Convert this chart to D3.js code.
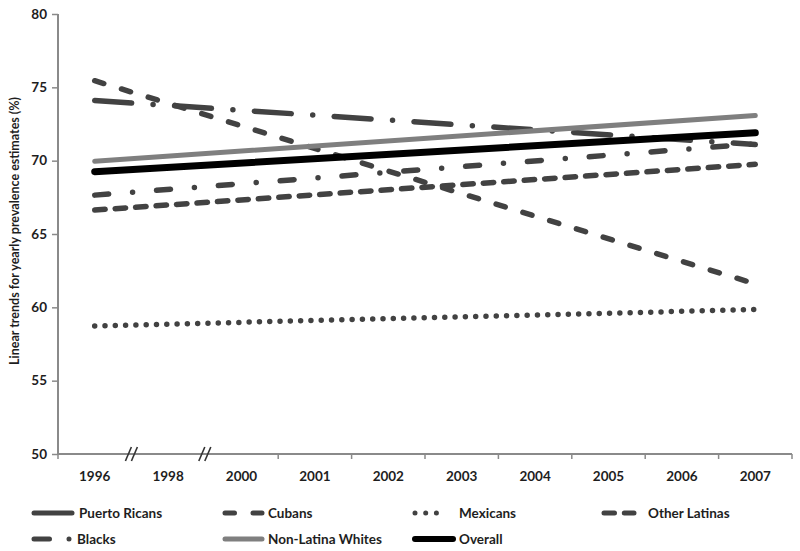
<!DOCTYPE html>
<html><head><meta charset="utf-8">
<script src="https://cdn.jsdelivr.net/npm/d3@7"></script>
<style>body{margin:0;background:#fff}svg{display:block}text{font-family:Lato,"Open Sans",sans-serif;font-weight:bold;fill:#1e1e1e}</style>
</head><body><svg id="c" width="800" height="551"></svg>
<script>
const categories = ["1996","1998","2000","2001","2002","2003","2004","2005","2006","2007"];
const breakAfter = ["1996","1998"];
const yTicks = [50,55,60,65,70,75,80];
const trendYears = ["1996","2007"];
const puertoRicans = [74.1, 71.1];
const cubans = [75.45, 61.6];
const mexicans = [58.73, 59.85];
const otherLatinas = [66.63, 69.75];
const blacks = [67.65, 71.15];
const whites = [69.96, 73.08];
const overall = [69.25, 71.9];
const seriesNames = ["Puerto Ricans","Cubans","Mexicans","Other Latinas","Blacks","Non-Latina Whites","Overall"];

const styles = {
 "Puerto Ricans":{c:"#424242",w:5.5,d:"37 21.5 0 21.5",ld:null},
 "Cubans":{c:"#424242",w:5.5,d:"9.5 18.5",ld:"9.5 18.5"},
 "Mexicans":{c:"#424242",w:5.5,d:"0 10.3",ld:"0 10.7"},
 "Other Latinas":{c:"#424242",w:5.5,d:"10.5 10",ld:"10.5 9.8"},
 "Blacks":{c:"#424242",w:5.5,d:"14 24 0 24",ld:"15.5 19.5 0 30"},
 "Non-Latina Whites":{c:"#7f7f7f",w:5,d:null,ld:null},
 "Overall":{c:"#000",w:7,d:null,ld:null}
};
const data = {"Puerto Ricans":puertoRicans,"Cubans":cubans,"Mexicans":mexicans,"Other Latinas":otherLatinas,"Blacks":blacks,"Non-Latina Whites":whites,"Overall":overall};

const svg = d3.select("#c");
const x = d3.scaleBand().domain(categories).range([58,792]);
const y = d3.scaleLinear().domain([50,80]).range([454,14]);

// y axis
const ya = svg.append("g").attr("transform","translate(58,0)")
  .call(d3.axisLeft(y).tickValues(yTicks).tickSize(6).tickPadding(5));
ya.select(".domain").attr("stroke","#8a8a8a").attr("stroke-width",2).attr("d","M-0,14V454");
ya.selectAll(".tick line").attr("stroke","#8a8a8a").attr("stroke-width",1.5);
ya.selectAll(".tick text").attr("font-size",13.5).attr("fill","#1e1e1e").attr("font-family","Lato").attr("font-weight","bold");

// x axis
const xg = svg.append("g");
xg.append("line").attr("x1",58).attr("x2",792).attr("y1",454).attr("y2",454).attr("stroke","#8a8a8a").attr("stroke-width",2);
const bounds = categories.map(c=>x(c)).concat([x.range()[1]]);
bounds.forEach((b,i)=>{
  const prev = categories[i-1];
  if (i>0 && breakAfter.includes(prev)) {
    [-3,3].forEach(o=>{
      xg.append("line").attr("x1",b+o-3).attr("x2",b+o+3).attr("y1",461).attr("y2",447)
        .attr("stroke","#333").attr("stroke-width",1.6);
    });
  } else {
    xg.append("line").attr("x1",b).attr("x2",b).attr("y1",454).attr("y2",459).attr("stroke","#8a8a8a").attr("stroke-width",1.5);
  }
});
xg.selectAll("text.xl").data(categories).join("text").attr("class","xl")
  .attr("x",d=>x(d)+x.bandwidth()/2).attr("y",481).attr("text-anchor","middle").attr("font-size",13.5).text(d=>d);

// y title
svg.append("text").attr("transform","translate(19,231) rotate(-90)").attr("text-anchor","middle")
  .attr("font-size",12.5).text("Linear trends for yearly prevalence estimates (%)");

// lines
const line = d3.line().x((d,i)=>x(trendYears[i])+x.bandwidth()/2).y(d=>y(d));
seriesNames.forEach(n=>{
  const s = styles[n];
  svg.append("path").attr("d",line(data[n])).attr("fill","none").attr("stroke",s.c)
    .attr("stroke-width",s.w).attr("stroke-linecap","round")
    .attr("stroke-dasharray",s.d);
});

// legend
const legPos = [[31,513],[222,513],[412,513],[601,513],[31,539],[222,539],[412,539]];
const legLen = [44,43,35,36,42,43,44];
const labelX = [79,268,459,648,77,268,459];
seriesNames.forEach((n,i)=>{
  const s = styles[n];
  const [lx,ly]=legPos[i];
  svg.append("line").attr("x1",lx+3).attr("x2",lx+legLen[i]-3).attr("y1",ly).attr("y2",ly)
    .attr("stroke",s.c).attr("stroke-width",n==="Overall"?6:5).attr("stroke-linecap","round")
    .attr("stroke-dasharray",s.ld);
  svg.append("text").attr("x",labelX[i]).attr("y",ly+5).attr("font-size",13.5).text(n);
});
</script></body></html>
